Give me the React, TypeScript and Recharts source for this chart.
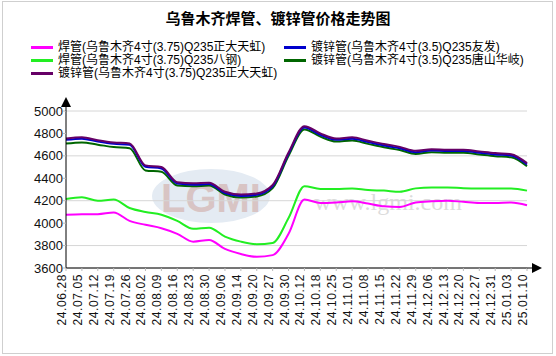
import { LineChart, Line, XAxis, YAxis, CartesianGrid } from "recharts";

// x categories
const dates = [
  "24.06.28", "24.07.05", "24.07.12", "24.07.19", "24.07.26", "24.08.02",
  "24.08.09", "24.08.16", "24.08.23", "24.08.30", "24.09.06", "24.09.14",
  "24.09.20", "24.09.27", "24.09.30", "24.10.12", "24.10.18", "24.10.25",
  "24.11.01", "24.11.08", "24.11.15", "24.11.22", "24.11.29", "24.12.06",
  "24.12.13", "24.12.20", "24.12.27", "24.12.31", "25.01.03", "25.01.10",
];

// 焊管 正大天虹
const weldZhengda = [
  4075, 4080, 4080, 4095, 4020, 3985, 3955, 3905, 3835, 3850, 3770, 3725,
  3700, 3715, 3905, 4210, 4180, 4185, 4195, 4175, 4150, 4145, 4185, 4195,
  4200, 4190, 4180, 4180, 4185, 4160,
];
// 焊管 八钢
const weldBagang = [
  4215, 4230, 4200, 4210, 4135, 4100, 4075, 4020, 3950, 3960, 3880, 3835,
  3812, 3823, 4045, 4330, 4305, 4305, 4310, 4295, 4290, 4280, 4310, 4318,
  4318, 4312, 4310, 4310, 4310, 4290,
];
// 镀锌管 友发
const galvYoufa = [
  4743, 4753, 4728, 4708, 4698, 4503, 4488, 4353, 4343, 4348, 4268, 4243,
  4253, 4328, 4618, 4853, 4788, 4743, 4753, 4723, 4693, 4668, 4633, 4648,
  4643, 4643, 4628, 4613, 4603, 4523,
];
// 镀锌管 唐山华岐
const galvTangshan = [
  4710, 4720, 4700, 4678, 4668, 4470, 4458, 4335, 4328, 4335, 4255, 4228,
  4238, 4312, 4600, 4835, 4772, 4727, 4737, 4707, 4677, 4652, 4617, 4632,
  4627, 4627, 4612, 4597, 4587, 4507,
];
// 镀锌管 正大天虹
const galvZhengda = [
  4755, 4765, 4740, 4720, 4710, 4515, 4500, 4365, 4355, 4360, 4280, 4255,
  4265, 4340, 4630, 4865, 4800, 4755, 4765, 4735, 4705, 4680, 4645, 4660,
  4655, 4655, 4640, 4625, 4615, 4535,
];

const yTicks = [3600, 3800, 4000, 4200, 4400, 4600, 4800, 5000];

const series = [
  { key: "weldZhengda", name: "焊管(乌鲁木齐4寸(3.75)Q235正大天虹)", color: "#ff00ff", values: weldZhengda },
  { key: "weldBagang", name: "焊管(乌鲁木齐4寸(3.75)Q235八钢)", color: "#22ee22", values: weldBagang },
  { key: "galvTangshan", name: "镀锌管(乌鲁木齐4寸(3.5)Q235唐山华岐)", color: "#006600", values: galvTangshan },
  { key: "galvYoufa", name: "镀锌管(乌鲁木齐4寸(3.5)Q235友发)", color: "#0000cc", values: galvYoufa },
  { key: "galvZhengda", name: "镀锌管(乌鲁木齐4寸(3.75)Q235正大天虹)", color: "#660066", values: galvZhengda },
];

// legend layout: [series key, column, row]
const legendOrder: Array<[string, number, number]> = [
  ["weldZhengda", 0, 0],
  ["galvYoufa", 1, 0],
  ["weldBagang", 0, 1],
  ["galvTangshan", 1, 1],
  ["galvZhengda", 0, 2],
];

const data = dates.map((date, i) => {
  const row: Record<string, string | number> = { date };
  series.forEach((s) => (row[s.key] = s.values[i]));
  return row;
});

const W = 556;
const H = 356;
const PLOT_LEFT = 66;
const PLOT_RIGHT = 527;
const PLOT_TOP = 111;
const PLOT_BOTTOM = 268;
const FONT = "'Liberation Sans', Arial, 'Noto Sans CJK SC', sans-serif";

const DateTick = (props: any) => {
  const { x, y, payload } = props;
  const ty = y + 1;
  return (
    <text
      x={x}
      y={ty}
      transform={`rotate(-90, ${x}, ${ty})`}
      textAnchor="end"
      fontSize={12}
      letterSpacing={0.6}
      fill="#111"
      fontFamily={FONT}
    >
      {payload.value}
    </text>
  );
};

export default function App() {
  return (
    <div
      style={{
        position: "absolute",
        left: 0,
        top: 0,
        width: W,
        height: H,
        background: "#fff",
        fontFamily: FONT,
      }}
    >
      <div
        style={{
          position: "absolute",
          left: 2,
          top: 1,
          width: 549,
          height: 351,
          border: "1px solid #cfcfcf",
        }}
      />
      <div
        style={{
          position: "absolute",
          top: 10,
          left: 0,
          width: W,
          textAlign: "center",
          fontSize: 15,
          fontWeight: "bold",
          lineHeight: "18px",
        }}
      >
        乌鲁木齐焊管、镀锌管价格走势图
      </div>
      {legendOrder.map(([key, col, row]) => {
        const s = series.find((it) => it.key === key)!;
        return (
          <div
            key={key}
            style={{
              position: "absolute",
              left: col === 0 ? 31 : 284,
              top: 40 + row * 13,
              display: "flex",
              alignItems: "center",
              fontSize: 12,
              lineHeight: "14px",
              whiteSpace: "nowrap",
            }}
          >
            <span
              style={{
                display: "inline-block",
                width: 22,
                height: 3,
                background: s.color,
                marginRight: 5,
              }}
            />
            <span>{s.name}</span>
          </div>
        );
      })}

      {/* watermark */}
      <svg width={W} height={H} style={{ position: "absolute", left: 0, top: 0 }}>
        <ellipse cx={211} cy={196} rx={59} ry={27} fill="#e4ebf3" />
        <text x={211} y={212} textAnchor="middle" fontSize={40} fontWeight="bold" fill="#d8c4c4" fontFamily={FONT}>
          LGMI
        </text>
        <text x={388} y={210} textAnchor="middle" fontSize={24} fill="#dcdcdc" fontFamily="'Liberation Serif', serif">
          www.lgmi.com
        </text>
      </svg>

      <div style={{ position: "absolute", left: 0, top: 0 }}>
        <LineChart
          width={W}
          height={H}
          data={data}
          margin={{ top: PLOT_TOP, right: W - PLOT_RIGHT, bottom: 8, left: PLOT_LEFT - 60 }}
        >
          <CartesianGrid vertical={false} stroke="#d6d6d6" />
          <XAxis
            dataKey="date"
            interval={0}
            padding={{ left: 0, right: 0 }}
            height={H - PLOT_BOTTOM - 8}
            axisLine={{ stroke: "#000" }}
            tickLine={{ stroke: "#bbb" }}
            tickSize={3}
            tick={<DateTick />}
          />
          <YAxis
            width={60}
            domain={[3600, 5000]}
            ticks={yTicks}
            allowDataOverflow
            axisLine={{ stroke: "#000" }}
            tickLine={{ stroke: "#bbb" }}
            tickSize={3}
            tickMargin={0}
            tick={{ fill: "#111", fontSize: 13, fontFamily: FONT }}
          />
          {series.map((s) => (
            <Line
              key={s.key}
              type="monotone"
              dataKey={s.key}
              name={s.name}
              stroke={s.color}
              strokeWidth={2}
              dot={false}
              isAnimationActive={false}
            />
          ))}
        </LineChart>
      </div>

      {/* axis arrows */}
      <svg width={W} height={H} style={{ position: "absolute", left: 0, top: 0, pointerEvents: "none" }}>
        <line x1={PLOT_LEFT} y1={PLOT_TOP} x2={PLOT_LEFT} y2={104} stroke="#000" />
        <polygon points={`${PLOT_LEFT - 5},107 ${PLOT_LEFT + 5},107 ${PLOT_LEFT},97`} fill="#000" />
        <line x1={PLOT_RIGHT} y1={PLOT_BOTTOM} x2={534} y2={PLOT_BOTTOM} stroke="#000" />
        <polygon points={`532,${PLOT_BOTTOM - 5} 532,${PLOT_BOTTOM + 5} 542,${PLOT_BOTTOM}`} fill="#000" />
      </svg>
    </div>
  );
}
